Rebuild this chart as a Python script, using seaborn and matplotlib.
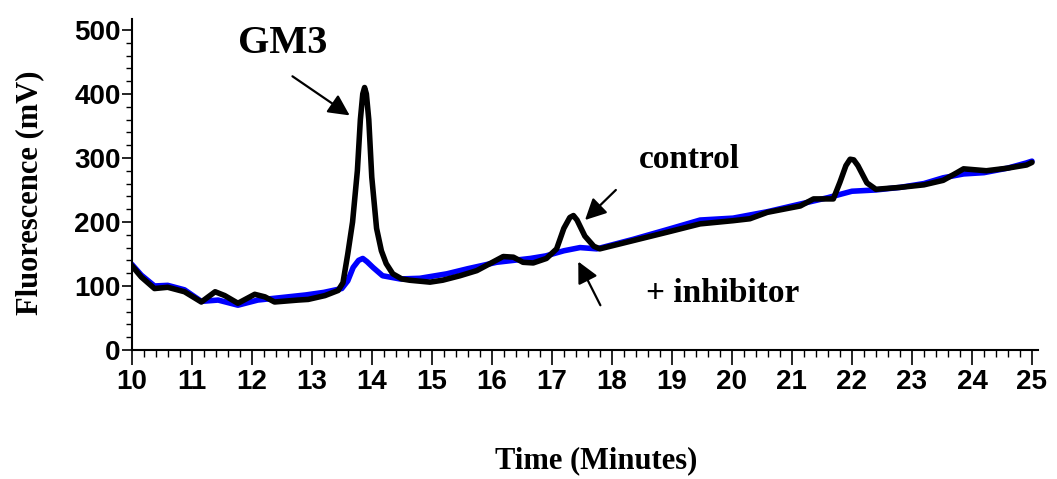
import matplotlib
matplotlib.use("Agg")
import matplotlib.pyplot as plt
import pandas as pd
import seaborn as sns
from matplotlib.ticker import MultipleLocator

# control trace (black)
control_time = [10.0, 10.16, 10.38, 10.6, 10.88, 11.16, 11.39, 11.55, 11.77, 12.05,
                12.22, 12.38, 12.77, 12.94, 13.22, 13.44, 13.52, 13.6, 13.68, 13.76,
                13.81, 13.85, 13.88, 13.91, 13.95, 14.0, 14.08, 14.16, 14.24, 14.35,
                14.5, 14.63, 14.97, 15.18, 15.47, 15.75, 15.97, 16.19, 16.36, 16.52,
                16.69, 16.91, 17.08, 17.2, 17.3, 17.36, 17.42, 17.55, 17.7, 17.8,
                18.36, 18.92, 19.47, 20.02, 20.3, 20.59, 21.14, 21.36, 21.69, 21.8,
                21.9, 21.97, 22.03, 22.1, 22.25, 22.4, 22.8, 23.2, 23.52, 23.75,
                23.86, 24.24, 24.59, 24.91, 25.0]
control_mv = [132, 114, 96, 98, 91, 75, 91, 85, 73, 87,
              83, 75, 78, 79, 85, 93, 105, 150, 200, 280,
              360, 400, 410, 400, 360, 270, 190, 155, 135, 119,
              111, 109, 106, 109, 116, 124, 135, 146, 145, 137,
              136, 143, 158, 190, 207, 210, 203, 178, 162, 158,
              171, 184, 197, 202, 205, 215, 225, 236, 236, 262,
              288, 298, 297, 288, 261, 251, 254, 258, 265, 277,
              283, 280, 284, 289, 293]

# + inhibitor trace (blue)
inhib_time = [10.0, 10.16, 10.38, 10.6, 10.88, 11.16, 11.44, 11.77, 12.1, 12.5,
              12.9, 13.2, 13.5, 13.6, 13.69, 13.78, 13.85, 13.92, 14.02, 14.18,
              14.47, 14.8, 15.25, 15.6, 16.08, 16.64, 16.9, 17.2, 17.47, 17.75,
              18.36, 18.92, 19.47, 20.02, 20.59, 21.14, 21.6, 21.8, 22.0, 22.4,
              22.8, 23.2, 23.52, 23.86, 24.2, 24.59, 24.9, 25.0]
inhib_mv = [134, 117, 100, 101, 94, 76, 78, 70, 78, 82,
            86, 90, 96, 108, 129, 140, 143, 138, 129, 116,
            111, 112, 119, 127, 137, 143, 147, 155, 160, 158,
            173, 188, 203, 206, 216, 228, 238, 243, 248, 250,
            254, 260, 269, 275, 277, 284, 292, 295]

x_ticks = list(range(10, 26))
y_ticks = [0, 100, 200, 300, 400, 500]

df_inhib = pd.DataFrame({"time": inhib_time, "mv": inhib_mv})
df_ctrl = pd.DataFrame({"time": control_time, "mv": control_mv})

sns.set_style("ticks")
plt.rcParams["font.family"] = ["Liberation Sans", "DejaVu Sans"]
plt.rcParams.update({"text.color": "black", "axes.labelcolor": "black",
                     "xtick.color": "black", "ytick.color": "black",
                     "axes.edgecolor": "black"})

fig = plt.figure(figsize=(10.57, 4.79), dpi=100)
ax = fig.add_axes([0.1246, 0.2693, 0.8574, 0.691])

sns.lineplot(data=df_inhib, x="time", y="mv", color="#0000ff", linewidth=4.0,
             ax=ax, solid_joinstyle="round", solid_capstyle="round")
sns.lineplot(data=df_ctrl, x="time", y="mv", color="black", linewidth=4.0,
             ax=ax, solid_joinstyle="round", solid_capstyle="round")

ax.set_xlim(10, 25.1)
ax.set_ylim(0, 517)
ax.set_xticks(x_ticks)
ax.set_yticks(y_ticks)
ax.xaxis.set_minor_locator(MultipleLocator(0.2))
ax.yaxis.set_minor_locator(MultipleLocator(20))
ax.tick_params(axis="x", which="major", length=11, width=1.2, pad=3)
ax.tick_params(axis="x", which="minor", length=5, width=1.0)
ax.tick_params(axis="y", which="major", length=7, width=1.2, pad=1)
ax.tick_params(axis="y", which="minor", length=4, width=1.0)
for lab in ax.get_xticklabels() + ax.get_yticklabels():
    lab.set_fontsize(20)
    lab.set_fontweight("bold")

sns.despine(ax=ax)
for s in ("left", "bottom"):
    ax.spines[s].set_linewidth(1.5)

serif = ["Liberation Serif", "DejaVu Serif"]
ax.set_xlabel("Time (Minutes)", fontsize=22, fontweight="bold", family=serif)
ax.set_ylabel("Fluorescence (mV)", fontsize=22, fontweight="bold", family=serif)
ax.xaxis.set_label_coords(0.513, -0.29)
ax.yaxis.set_label_coords(-0.097, 0.474)

arrow = dict(arrowstyle="-|>", color="black", lw=1.6, mutation_scale=32)
ax.text(12.52, 478, "GM3", fontsize=29, fontweight="bold", family=serif,
        ha="center", va="center")
ax.annotate("", xy=(13.67, 364), xytext=(12.64, 430), arrowprops=arrow)
ax.text(19.3, 297, "control", fontsize=24, fontweight="bold", family=serif,
        ha="center", va="center")
ax.annotate("", xy=(17.52, 200), xytext=(18.1, 253), arrowprops=arrow)
ax.text(19.84, 89, "+ inhibitor", fontsize=24, fontweight="bold", family=serif,
        ha="center", va="center")
ax.annotate("", xy=(17.42, 142), xytext=(17.83, 66), arrowprops=arrow)

fig.savefig("out.png", dpi=100)
